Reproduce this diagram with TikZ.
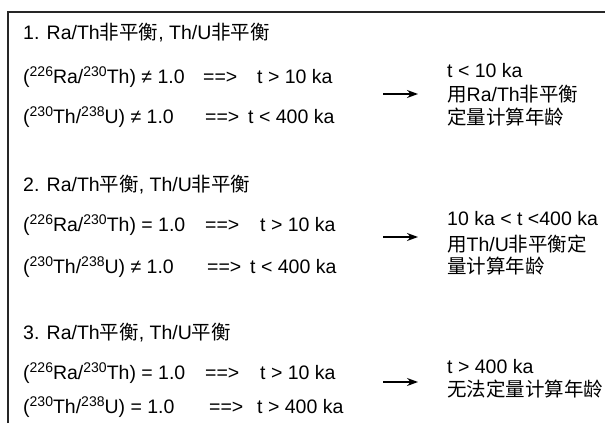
\documentclass[tikz,border=0pt]{standalone}
\usepackage{fontspec}
\setmainfont{Liberation Sans}
\newfontfamily\cjkfont{Noto Sans CJK SC}
\usetikzlibrary{arrows.meta}
\newcommand{\zh}[1]{{\cjkfont #1}}
\newcommand{\sups}[1]{\raisebox{7pt}{\fontsize{14}{14}\selectfont #1}}
\begin{document}
\begin{tikzpicture}[x=1pt,y=-1pt,
  txt/.style={anchor=base west,inner sep=0pt,font=\fontsize{19.5}{21}\selectfont},
  frame/.style={line width=1.5pt,draw=black!85},
  arr/.style={line width=1.3pt,-{Stealth[length=11pt,width=8pt]}}]
\useasboundingbox (0,0) rectangle (605,423);
\draw[frame] (8,423) -- (8,12) -- (605,12);
% block 1
\node[txt] (t1) at (23,39.5) {1. Ra/Th\zh{非平衡}, Th/U\zh{非平衡}};
\node[txt] (a1) at (23,83.5) {(\sups{226}Ra/\sups{230}Th) ≠ 1.0};
\node[txt] (a1i) at (203,83.5) {==>};
\node[txt] (a1r) at (257,83.5) {t > 10 ka};
\node[txt] (b1) at (23,123.5) {(\sups{230}Th/\sups{238}U) ≠ 1.0};
\node[txt] (b1i) at (205,123.5) {==>};
\node[txt] (b1r) at (248,123.5) {t < 400 ka};
\node[txt] (r1a) at (447,77.5) {t < 10 ka};
\node[txt] (r1b) at (447,101.5) {\zh{用}Ra/Th\zh{非平衡}};
\node[txt] (r1c) at (447,124.5) {\zh{定量计算年龄}};
\coordinate (s1) at (383,94);
\coordinate (e1) at (418,94);
\draw[arr] (s1) -- (e1);
% block 2
\node[txt] (t2) at (23,191.5) {2. Ra/Th\zh{平衡}, Th/U\zh{非平衡}};
\node[txt] (a2) at (23,231.5) {(\sups{226}Ra/\sups{230}Th) = 1.0};
\node[txt] (a2i) at (205,231.5) {==>};
\node[txt] (a2r) at (260,231.5) {t > 10 ka};
\node[txt] (b2) at (23,273.5) {(\sups{230}Th/\sups{238}U) ≠ 1.0};
\node[txt] (b2i) at (207,273.5) {==>};
\node[txt] (b2r) at (250,273.5) {t < 400 ka};
\node[txt] (r2a) at (447,225.5) {10 ka < t <400 ka};
\node[txt] (r2b) at (447,251.5) {\zh{用}Th/U\zh{非平衡定}};
\node[txt] (r2c) at (447,273.5) {\zh{量计算年龄}};
\coordinate (s2) at (383,237);
\coordinate (e2) at (418,237);
\draw[arr] (s2) -- (e2);
% block 3
\node[txt] (t3) at (23,339.5) {3. Ra/Th\zh{平衡}, Th/U\zh{平衡}};
\node[txt] (a3) at (23,379.5) {(\sups{226}Ra/\sups{230}Th) = 1.0};
\node[txt] (a3i) at (205,379.5) {==>};
\node[txt] (a3r) at (260,379.5) {t > 10 ka};
\node[txt] (b3) at (23,413.5) {(\sups{230}Th/\sups{238}U) = 1.0};
\node[txt] (b3i) at (209,413.5) {==>};
\node[txt] (b3r) at (257,413.5) {t > 400 ka};
\node[txt] (r3a) at (447,373.5) {t > 400 ka};
\node[txt] (r3b) at (447,396.5) {\zh{无法定量计算年龄}};
\coordinate (s3) at (383,382);
\coordinate (e3) at (418,382);
\draw[arr] (s3) -- (e3);
\end{tikzpicture}
\end{document}
